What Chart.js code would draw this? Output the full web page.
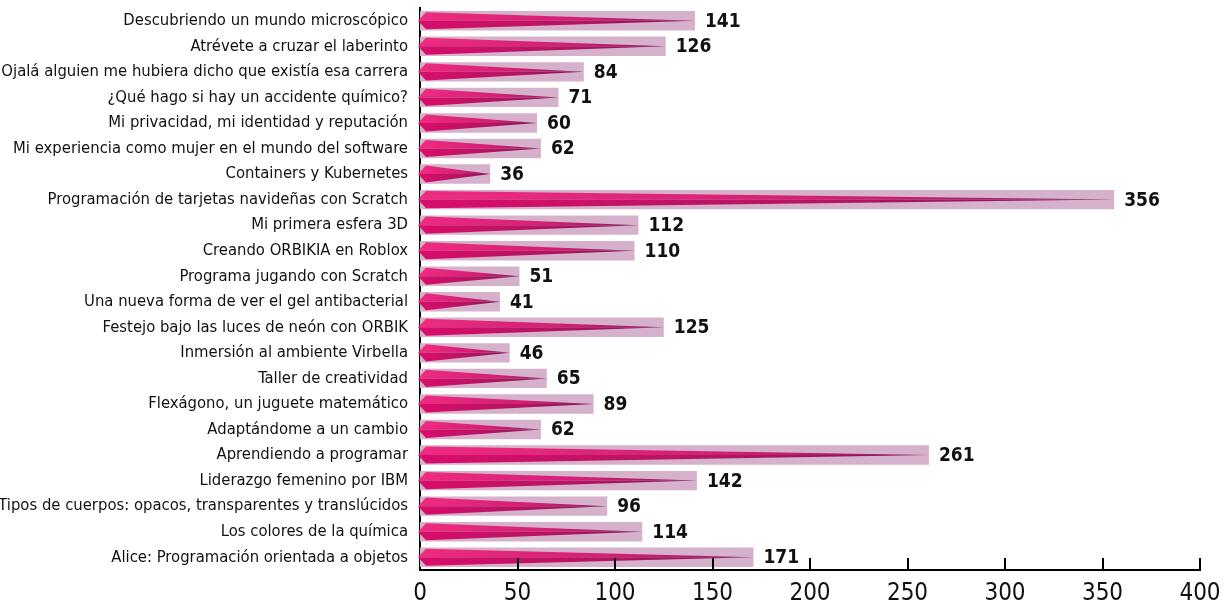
<!DOCTYPE html>
<html>
<head>
<meta charset="utf-8">
<script src="https://cdn.jsdelivr.net/npm/chart.js@4.4.1/dist/chart.umd.min.js"></script>
<style>
  html, body { margin: 0; padding: 0; background: #fff; }
  #wrap { width: 1224px; height: 607px; position: relative; }
</style>
</head>
<body>
<div id="wrap"><canvas id="chart"></canvas></div>
<script>
const talks = [
  'Descubriendo un mundo microscópico',
  'Atrévete a cruzar el laberinto',
  'Ojalá alguien me hubiera dicho que existía esa carrera',
  '¿Qué hago si hay un accidente químico?',
  'Mi privacidad, mi identidad y reputación',
  'Mi experiencia como mujer en el mundo del software',
  'Containers y Kubernetes',
  'Programación de tarjetas navideñas con Scratch',
  'Mi primera esfera 3D',
  'Creando ORBIKIA en Roblox',
  'Programa jugando con Scratch',
  'Una nueva forma de ver el gel antibacterial',
  'Festejo bajo las luces de neón con ORBIK',
  'Inmersión al ambiente Virbella',
  'Taller de creatividad',
  'Flexágono, un juguete matemático',
  'Adaptándome a un cambio',
  'Aprendiendo a programar',
  'Liderazgo femenino por IBM',
  'Tipos de cuerpos: opacos, transparentes y translúcidos',
  'Los colores de la química',
  'Alice: Programación orientada a objetos'
];
const attendees = [141, 126, 84, 71, 60, 62, 36, 356, 112, 110, 51, 41, 125, 46, 65, 89, 62, 261, 142, 96, 114, 171];
const xTicks = [0, 50, 100, 150, 200, 250, 300, 350, 400];

const FONT = "'Liberation Sans Narrow', 'DejaVu Sans Condensed', sans-serif";

// pink spike inside each bar + value label at its end
const spikes = {
  id: 'spikes',
  afterDatasetsDraw(chart) {
    const ctx = chart.ctx;
    const meta = chart.getDatasetMeta(0);
    meta.data.forEach((bar, i) => {
      const x0 = bar.base, x1 = bar.x, cy = bar.y;
      const half = bar.height / 2 * 0.88;
      const shoulder = x0 + 6;

      const up = ctx.createLinearGradient(x0, 0, x1, 0);
      up.addColorStop(0, '#ee2c80');
      up.addColorStop(0.6, '#d21f74');
      up.addColorStop(1, '#8e1f5f');
      const down = ctx.createLinearGradient(x0, 0, x1, 0);
      down.addColorStop(0, '#d90d6b');
      down.addColorStop(0.6, '#b0165f');
      down.addColorStop(1, '#7d1a55');

      ctx.save();
      ctx.beginPath();
      ctx.moveTo(x0 - 2, cy);
      ctx.lineTo(shoulder, cy - half);
      ctx.lineTo(x1, cy);
      ctx.closePath();
      ctx.fillStyle = up;
      ctx.fill();

      ctx.beginPath();
      ctx.moveTo(x0 - 2, cy);
      ctx.lineTo(shoulder, cy + half);
      ctx.lineTo(x1, cy);
      ctx.closePath();
      ctx.fillStyle = down;
      ctx.fill();

      ctx.fillStyle = '#111';
      ctx.font = 'bold 19px ' + FONT;
      ctx.textAlign = 'left';
      ctx.textBaseline = 'middle';
      ctx.fillText(String(attendees[i]), x1 + 10, cy + 1);
      ctx.restore();
    });
  },
  // short tick marks pointing up from the x axis
  afterDraw(chart) {
    const ctx = chart.ctx;
    const xs = chart.scales.x;
    const yBottom = chart.chartArea.bottom;
    ctx.save();
    ctx.strokeStyle = '#000';
    ctx.lineWidth = 2;
    xTicks.forEach(v => {
      if (v === 0) return;
      const px = Math.round(xs.getPixelForValue(v));
      ctx.beginPath();
      ctx.moveTo(px, yBottom);
      ctx.lineTo(px, yBottom - 12);
      ctx.stroke();
    });
    ctx.restore();
  }
};

new Chart(document.getElementById('chart'), {
  type: 'bar',
  data: {
    labels: talks,
    datasets: [{
      data: attendees,
      backgroundColor: '#d5b1cb',
      borderWidth: 0,
      barPercentage: 0.76,
      categoryPercentage: 1
    }]
  },
  options: {
    indexAxis: 'y',
    responsive: true,
    maintainAspectRatio: false,
    animation: false,
    layout: { padding: { top: 8, right: 24, left: 0, bottom: 0 } },
    plugins: {
      legend: { display: false },
      tooltip: { enabled: false }
    },
    scales: {
      x: {
        min: 0,
        max: 400,
        afterBuildTicks: scale => { scale.ticks = xTicks.map(v => ({ value: v })); },
        grid: { display: false, drawTicks: false },
        border: { display: true, color: '#000', width: 2 },
        ticks: {
          color: '#111',
          padding: 9,
          font: { family: FONT, size: 24 }
        },
        afterFit: scale => {
          scale.height = 37;
          scale.paddingLeft = 0;
          scale.paddingRight = 0;
        }
      },
      y: {
        grid: { display: false, drawTicks: false },
        border: { display: true, color: '#000', width: 2 },
        ticks: {
          color: '#111',
          padding: 12,
          autoSkip: false,
          font: { family: FONT, size: 16.5 }
        },
        afterFit: scale => {
          scale.width = 420;
          scale.paddingTop = 0;
          scale.paddingBottom = 0;
        }
      }
    }
  },
  plugins: [spikes]
});
</script>
</body>
</html>
